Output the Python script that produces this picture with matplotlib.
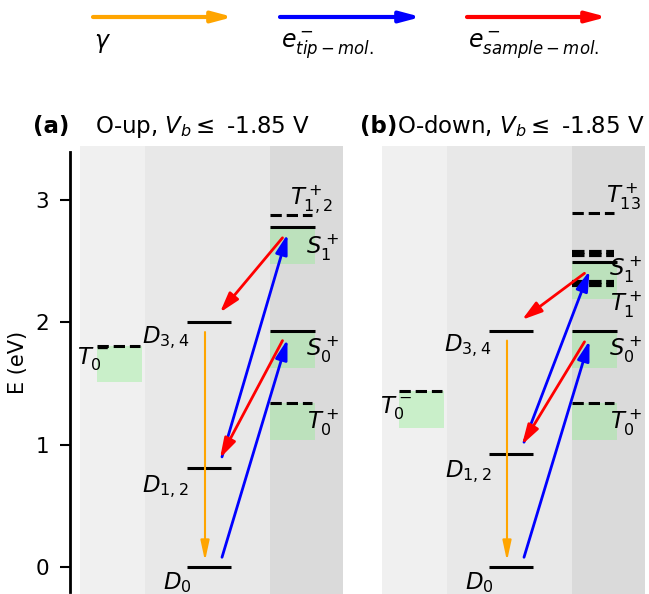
import matplotlib
matplotlib.use('Agg')
import matplotlib.pyplot as plt
from matplotlib.patches import FancyArrowPatch, Rectangle

plt.rcParams['font.size'] = 15
plt.rcParams['font.family'] = ['DejaVu Sans']

W, H = 649, 594
fig = plt.figure(figsize=(W / 100, H / 100), dpi=100)


def fx(px):
    return px / W


def fy(py):
    return 1 - py / H


# ---------------- data ----------------
titles = ["O-up, $V_b \\leq$ -1.85 V", "O-down, $V_b \\leq$ -1.85 V"]
panel_tags = ["(a)", "(b)"]
yticks = [0, 1, 2, 3]

# panel (a) O-up : energies in eV
a_D = [0.00, 0.81, 2.00]              # D0, D1,2, D3,4 (neutral doublets)
a_cat_solid = [2.78, 1.93]            # S1+, S0+
a_cat_dashed = [2.88, 1.34]           # T1,2+, T0+
a_cat_dashed_thick = []
a_an_dashed = [1.81]                  # T0-
a_cat_boxes = [2.78, 1.93, 1.34]
a_an_boxes = [1.81]
a_gamma = [(1.92, 0.05)]
a_tip = [(0.08, 1.86), (0.90, 2.72)]
a_sample = [(2.69, 2.08), (1.85, 0.89)]

# panel (b) O-down
b_D = [0.00, 0.92, 1.93]
b_cat_solid = [2.49, 1.93]
b_cat_dashed = [2.89, 1.34]
b_cat_dashed_thick = [2.574, 2.549, 2.329, 2.304]   # closely spaced T1+ states
b_an_dashed = [1.44]
b_cat_boxes = [2.49, 1.93, 1.34]
b_an_boxes = [1.44]
b_gamma = [(1.85, 0.05)]
b_tip = [(0.08, 1.85), (1.02, 2.42)]
b_sample = [(2.40, 2.02), (1.84, 1.00)]

box_height = 0.30

a_labels = [("$D_{3,4}$", 0.86, 1.878), ("$D_{1,2}$", 0.855, 0.66),
            ("$D_0$", 0.975, -0.125), ("$S_1^+$", 2.43, 2.61),
            ("$T_{1,2}^+$", 2.315, 3.01), ("$S_0^+$", 2.43, 1.77),
            ("$T_0^+$", 2.435, 1.175), ("$T_0^-$", 0.135, 1.70)]
b_labels = [("$D_{3,4}$", 0.86, 1.81), ("$D_{1,2}$", 0.86, 0.78),
            ("$D_0$", 0.975, -0.125), ("$S_1^+$", 2.44, 2.43),
            ("$T_{13}^+$", 2.41, 3.02), ("$T_1^+$", 2.445, 2.14),
            ("$S_0^+$", 2.44, 1.77), ("$T_0^+$", 2.44, 1.175),
            ("$T_0^-$", 0.14, 1.30)]

legend_labels = ["$\\gamma$", "$e^-_{tip-mol.}$", "$e^-_{sample-mol.}$"]
legend_colors = ["orange", "blue", "red"]

# ---------------- layout ----------------
band_edges = [0.0, 0.65, 1.90, 2.63]
band_colors = ["#f0f0f0", "#e8e8e8", "#dadada"]
D_x = (1.07, 1.51)
cat_x = (1.90, 2.35)
cat_dash_x = (1.90, 2.32)
an_x = (0.17, 0.60)
an_box_x = (0.17, 0.62)
gamma_x = 1.25
tip_x = (1.42, 2.075)
sample_x = (2.025, 1.40)
green = (0.565, 0.933, 0.565)
LABEL_FS = 16.5


def arrow(ax, x0, y0, x1, y1, color, lw=2.0, hw=0.18, hl=0.55):
    ax.annotate("", xy=(x1, y1), xytext=(x0, y0),
                arrowprops=dict(arrowstyle=f"-|>,head_length={hl},head_width={hw}",
                                color=color, lw=lw, shrinkA=0, shrinkB=0,
                                mutation_scale=20), zorder=5)


def panel(ax, D, cat_solid, cat_dashed, cat_dashed_thick, an_dashed, cat_boxes,
          an_boxes, gam, tip, samp, labels):
    ax.set_xlim(0, 2.63)
    ax.set_ylim(-0.22, 3.44)
    for i in range(3):
        ax.axvspan(band_edges[i], band_edges[i + 1], color=band_colors[i],
                   lw=0, zorder=0)
    for e in cat_boxes:
        ax.add_patch(Rectangle((cat_x[0], e - box_height), cat_x[1] - cat_x[0],
                               box_height, color=green, alpha=0.4, lw=0, zorder=1))
    for e in an_boxes:
        ax.add_patch(Rectangle((an_box_x[0], e - box_height),
                               an_box_x[1] - an_box_x[0],
                               box_height, color=green, alpha=0.4, lw=0, zorder=1))
    ax.hlines(D, *D_x, color="black", lw=2.2, zorder=3)
    ax.hlines(cat_solid, *cat_x, color="black", lw=2.2, zorder=3)
    ax.hlines(cat_dashed, *cat_dash_x, color="black", lw=2.2,
              linestyles="--", zorder=3)
    if cat_dashed_thick:
        ax.hlines(cat_dashed_thick, *cat_dash_x, color="black", lw=3,
                  linestyles=[(0, (3.0, 1.1))], zorder=3)
    ax.hlines(an_dashed, *an_x, color="black", lw=2.2, linestyles="--", zorder=3)
    for (s, e) in gam:
        arrow(ax, gamma_x, s, gamma_x, e, "orange", lw=1.5, hw=0.13, hl=0.6)
    for (s, e) in tip:
        arrow(ax, tip_x[0], s, tip_x[1], e, "blue", hl=0.6)
    for (s, e) in samp:
        arrow(ax, sample_x[0], s, sample_x[1], e, "red", hl=0.6)
    for (t, x, y) in labels:
        ax.text(x, y, t, ha="center", va="center", fontsize=LABEL_FS, zorder=6)
    for sp in ["top", "right", "bottom"]:
        ax.spines[sp].set_visible(False)
    ax.set_xticks([])


ax_h = (594 - 146) / 594
ax_a = fig.add_axes([fx(80), 0, fx(343) - fx(80), ax_h])
ax_b = fig.add_axes([fx(382), 0, fx(645) - fx(382), ax_h])

panel(ax_a, a_D, a_cat_solid, a_cat_dashed, a_cat_dashed_thick, a_an_dashed,
      a_cat_boxes, a_an_boxes, a_gamma, a_tip, a_sample, a_labels)
panel(ax_b, b_D, b_cat_solid, b_cat_dashed, b_cat_dashed_thick, b_an_dashed,
      b_cat_boxes, b_an_boxes, b_gamma, b_tip, b_sample, b_labels)

ax_a.spines["left"].set_position(("outward", 7.2))
ax_a.spines["left"].set_linewidth(2)
ax_a.spines["left"].set_bounds(-0.2, 3.39)
ax_a.set_yticks(yticks)
ax_a.tick_params(axis="y", length=7, width=1.5, pad=8, labelsize=15.5)

ax_b.spines["left"].set_visible(False)
ax_b.set_yticks([])

fig.text(fx(18), fy(362), "E (eV)", rotation=90, ha="center", va="center",
         fontsize=15)

# titles
fig.text(fx(33), fy(133), panel_tags[0], fontweight="bold", ha="left",
         va="baseline", fontsize=LABEL_FS)
fig.text(fx(95), fy(133), titles[0], ha="left", va="baseline", fontsize=LABEL_FS)
fig.text(fx(360), fy(133), panel_tags[1], fontweight="bold", ha="left",
         va="baseline", fontsize=LABEL_FS)
fig.text(fx(397), fy(133), titles[1], ha="left", va="baseline", fontsize=LABEL_FS)

# legend arrows at top
leg_x = [(93, 233), (280, 421), (467, 607)]
for (x0, x1), c, lab in zip(leg_x, legend_colors, legend_labels):
    fig.add_artist(FancyArrowPatch((fx(x0), fy(17)), (fx(x1), fy(17)),
                                   transform=fig.transFigure,
                                   arrowstyle="-|>,head_length=0.6,head_width=0.16",
                                   mutation_scale=20, color=c, lw=3,
                                   shrinkA=0, shrinkB=0))
    fig.text(fx(x0 + 1), fy(48), lab, ha="left", va="baseline", fontsize=17)

fig.savefig("out.png", dpi=100)
